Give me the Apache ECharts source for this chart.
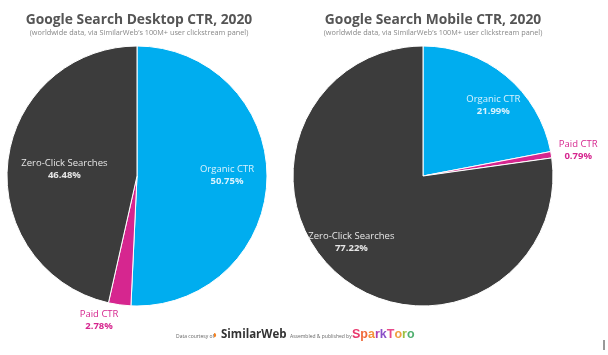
<!DOCTYPE html>
<html><head><meta charset="utf-8">
<script src="https://cdn.jsdelivr.net/npm/echarts@6/dist/echarts.min.js"></script>
<style>html,body{margin:0;padding:0;background:#fff}#c{width:608px;height:355px}</style>
</head><body><div id="c"></div>
<script>
const categories = ['Organic CTR', 'Paid CTR', 'Zero-Click Searches'];
const desktopValues = [50.75, 2.78, 46.48];
const mobileValues = [21.99, 0.79, 77.22];
const titles = ['Google Search Desktop CTR, 2020', 'Google Search Mobile CTR, 2020'];
const subtitle = '(worldwide data, via SimilarWeb\u2019s 100M+ user clickstream panel)';

const colors = ['#00adef', '#d6268f', '#3c3c3c'];
const labelColors = ['#d9f2fd', '#d6268f', '#e6e6e6'];
const FONT = '"Open Sans", "Noto Sans", sans-serif';

function buildData(vals) {
  return categories.map((name, i) => ({
    name, value: vals[i],
    itemStyle: { color: colors[i] },
    label: {
      position: i === 1 ? 'outside' : 'inside',
      color: labelColors[i],
      overflow: 'none',
      rich: {
        n: { fontSize: 9.5, color: labelColors[i], fontFamily: FONT, lineHeight: 12 },
        v: { fontSize: 9.5, fontWeight: 'bold', color: labelColors[i], fontFamily: FONT, lineHeight: 12 }
      }
    }
  }));
}

const layoutOffsets = [
  [[22, -2], [-15, 12], [-5, 1]],
  [[27, -18], [18, -4], [-27, 15]]
];

function makeSeries(vals, center, idx) {
  return {
    type: 'pie',
    center, radius: 130,
    startAngle: 90, clockwise: true,
    animation: false,
    silent: true,
    itemStyle: { borderColor: '#fff', borderWidth: 1 },
    label: {
      show: true,
      overflow: 'none',
      formatter: p => '{n|' + p.name + '}\n{v|' + p.value.toFixed(2) + '%}',
      align: 'center'
    },
    labelLine: { show: false, length: 4, length2: 0 },
    labelLayout: p => ({ dx: layoutOffsets[idx][p.dataIndex][0], dy: layoutOffsets[idx][p.dataIndex][1], align: 'center' }),
    data: buildData(vals)
  };
}

const chart = echarts.init(document.getElementById('c'), null, { renderer: 'canvas' });
chart.setOption({
  backgroundColor: '#fff',
  title: [
    { text: titles[0], subtext: subtitle, left: 134, top: 8, textAlign: 'center', itemGap: 2,
      textStyle: { fontSize: 13.8, fontWeight: 'bold', color: '#555', fontFamily: FONT },
      subtextStyle: { fontSize: 7.3, color: '#888', fontFamily: FONT } },
    { text: titles[1], subtext: subtitle, left: 428, top: 8, textAlign: 'center', itemGap: 2,
      textStyle: { fontSize: 13.8, fontWeight: 'bold', color: '#555', fontFamily: FONT },
      subtextStyle: { fontSize: 7.3, color: '#888', fontFamily: FONT } }
  ],
  series: [
    makeSeries(desktopValues, [137, 176], 0),
    makeSeries(mobileValues, [423, 176], 1)
  ],
  graphic: [
    { type: 'text', left: 176, top: 334, style: { text: 'Data courtesy of', fontSize: 5, fill: '#666', fontFamily: FONT } },
    { type: 'text', left: 212, top: 330, style: { text: '\u25D7', fontSize: 10, fill: '#f58220', fontFamily: FONT } },
    { type: 'text', left: 221, top: 329, style: { text: 'SimilarWeb', fontSize: 11.5, fontWeight: 'bold', fill: '#333', fontFamily: FONT } },
    { type: 'text', left: 290, top: 334, style: { text: 'Assembled & published by', fontSize: 5, fill: '#666', fontFamily: FONT } },
    { type: 'text', left: 352, top: 328, style: {
      text: '{a|S}{b|p}{c|a}{d|r}{e|k}{f|T}{g|o}{h|r}{i|o}', fontFamily: FONT,
      rich: {
        a: { fill: '#e8386d', fontSize: 12.5, fontWeight: 'bold' },
        b: { fill: '#f06a3a', fontSize: 12.5, fontWeight: 'bold' },
        c: { fill: '#f5923a', fontSize: 12.5, fontWeight: 'bold' },
        d: { fill: '#b040b0', fontSize: 12.5, fontWeight: 'bold' },
        e: { fill: '#8a4fc8', fontSize: 12.5, fontWeight: 'bold' },
        f: { fill: '#e84a8a', fontSize: 12.5, fontWeight: 'bold' },
        g: { fill: '#f0a040', fontSize: 12.5, fontWeight: 'bold' },
        h: { fill: '#9ac040', fontSize: 12.5, fontWeight: 'bold' },
        i: { fill: '#50b070', fontSize: 12.5, fontWeight: 'bold' }
      } } },
    { type: 'line', shape: { x1: 604, y1: 340, x2: 604, y2: 350 }, style: { stroke: '#333', lineWidth: 1 } }
  ]
});
</script></body></html>
